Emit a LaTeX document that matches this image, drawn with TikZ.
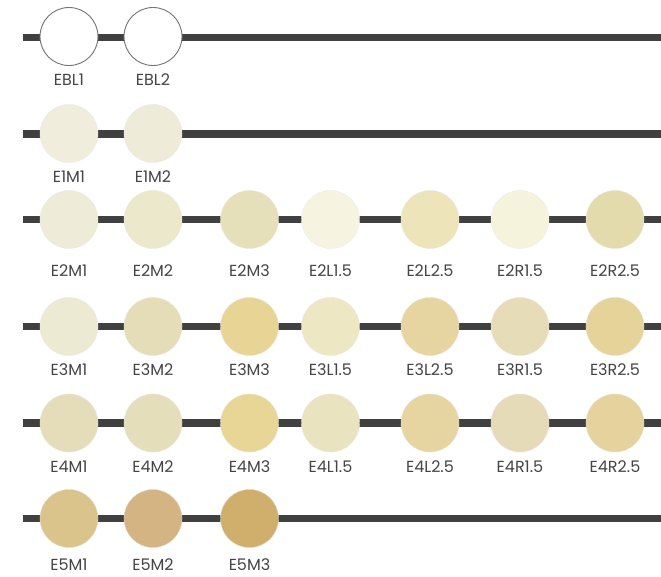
\documentclass[tikz,border=0pt]{standalone}
\usepackage{fontspec}
\setmainfont{Poppins}
\definecolor{railc}{HTML}{404040}
\definecolor{labc}{HTML}{454545}
\begin{document}
\begin{tikzpicture}[x=1pt,y=-1pt,
  rail/.style={draw=railc,line width=7.5pt},
  shade/.style={circle,minimum size=58pt,inner sep=0pt,fill=#1,draw=#1!85!black!40,line width=0.4pt},
  white/.style={circle,minimum size=58pt,inner sep=0pt,fill=white,draw=black!55,line width=0.9pt},
  lab/.style={font=\fontsize{16}{16}\selectfont,text=labc,inner sep=0pt,anchor=center}]
\useasboundingbox[fill=white] (0,0) rectangle (661,576);
% colours
\definecolor{e1m1}{HTML}{F0EDDD}\definecolor{e1m2}{HTML}{EFEBD9}
\definecolor{e2m1}{HTML}{EFEBD9}\definecolor{e2m2}{HTML}{ECE8CB}\definecolor{e2m3}{HTML}{E5E0BA}
\definecolor{e2l15}{HTML}{F6F4E1}\definecolor{e2l25}{HTML}{EDE4BA}\definecolor{e2r15}{HTML}{F6F3DD}\definecolor{e2r25}{HTML}{E4DBAC}
\definecolor{e3m1}{HTML}{EDEAD3}\definecolor{e3m2}{HTML}{E4DDB8}\definecolor{e3m3}{HTML}{E8D596}
\definecolor{e3l15}{HTML}{EDE7C3}\definecolor{e3l25}{HTML}{E6D5A0}\definecolor{e3r15}{HTML}{E6DCB8}\definecolor{e3r25}{HTML}{E5D399}
\definecolor{e4m1}{HTML}{E5DDB9}\definecolor{e4m2}{HTML}{E5DEBA}\definecolor{e4m3}{HTML}{E8D697}
\definecolor{e4l15}{HTML}{EAE3C0}\definecolor{e4l25}{HTML}{E6D5A0}\definecolor{e4r15}{HTML}{E5DBB8}\definecolor{e4r25}{HTML}{E5D29C}
\definecolor{e5m1}{HTML}{DAC48C}\definecolor{e5m2}{HTML}{D5B484}\definecolor{e5m3}{HTML}{D0AE6C}
% row 1
\coordinate (s1) at (23,37.5); \coordinate (t1) at (661,37.5);
\draw[rail] (s1) -- (t1);
\node[white] (ebl1) at (69,36.5) {}; \node[lab] at (69,80) {EBL1};
\node[white] (ebl2) at (153,36.5) {}; \node[lab] at (153,80) {EBL2};
% row 2
\coordinate (s2) at (23,134); \coordinate (t2) at (661,134);
\draw[rail] (s2) -- (t2);
\node[shade=e1m1] (e1m1) at (69,133.5) {}; \node[lab] at (69,177) {E1M1};
\node[shade=e1m2] (e1m2) at (153,133.5) {}; \node[lab] at (153,177) {E1M2};
% rows 3-5
\foreach \r/\y/\ly/\n [count=\k] in {3/219.5/271/2, 4/326.5/370/3, 5/423/467/4}{
  \coordinate (s\r) at (23,\y); \coordinate (t\r) at (661,\y);
  \draw[rail] (s\r) -- (t\r);
  \foreach \x/\suf/\cn in {69/M1/m1, 153/M2/m2, 249.5/M3/m3, 330.5/L1.5/l15, 430/L2.5/l25, 520/R1.5/r15, 615/R2.5/r25}{
    \node[shade=e\n\cn] (c\n\cn) at (\x,\y) {};
    \node[lab] (l\n\cn) at (\x,\ly) {E\n\suf};
  }
}
% row 6
\coordinate (s6) at (23,518.5); \coordinate (t6) at (661,518.5);
\draw[rail] (s6) -- (t6);
\node[shade=e5m1] (e5m1) at (69,518.5) {}; \node[lab] at (69,565) {E5M1};
\node[shade=e5m2] (e5m2) at (153,518.5) {}; \node[lab] at (153,565) {E5M2};
\node[shade=e5m3] (e5m3) at (249.5,518.5) {}; \node[lab] at (249.5,565) {E5M3};
\end{tikzpicture}
\end{document}
